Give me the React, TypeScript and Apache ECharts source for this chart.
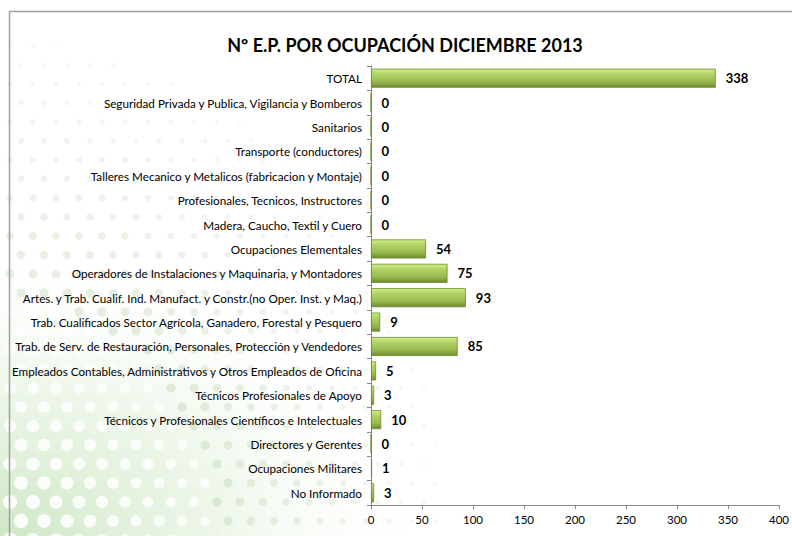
import React, { useEffect, useRef } from "react";
import * as echarts from "echarts";

const title = "Nº E.P. POR OCUPACIÓN DICIEMBRE 2013";
const categories = [
  "TOTAL",
  "Seguridad Privada y Publica, Vigilancia y Bomberos",
  "Sanitarios",
  "Transporte (conductores)",
  "Talleres Mecanico y Metalicos (fabricacion y Montaje)",
  "Profesionales, Tecnicos, Instructores",
  "Madera, Caucho, Textil y Cuero",
  "Ocupaciones Elementales",
  "Operadores de Instalaciones y Maquinaria, y Montadores",
  "Artes. y Trab. Cualif. Ind. Manufact. y Constr.(no Oper. Inst. y Maq.)",
  "Trab. Cualificados Sector Agrícola, Ganadero, Forestal y Pesquero",
  "Trab. de Serv. de Restauración, Personales, Protección y Vendedores",
  "Empleados Contables, Administrativos y Otros Empleados de Oficina",
  "Técnicos Profesionales de Apoyo",
  "Técnicos y Profesionales Científicos e Intelectuales",
  "Directores y Gerentes",
  "Ocupaciones Militares",
  "No Informado",
];
const values = [338, 0, 0, 0, 0, 0, 0, 54, 75, 93, 9, 85, 5, 3, 10, 0, 1, 3];
const xTicks = { min: 0, max: 400, interval: 50 };

function backgroundDots() {
  const els: any[] = [];
  const W = 792, H = 536;
  els.push({
    type: "rect",
    silent: true,
    z: -11,
    shape: { x: 0, y: 0, width: W, height: H },
    style: {
      fill: new echarts.graphic.RadialGradient(0, 1, 0.55, [
        { offset: 0, color: "rgba(200,228,190,0.9)" },
        { offset: 0.5, color: "rgba(220,238,212,0.5)" },
        { offset: 1, color: "rgba(255,255,255,0)" },
      ]),
    },
  });
  for (let row = 0; row < 30; row++) {
    const y = H - row * 19 + 4;
    for (let col = 0; col < 20; col++) {
      const x = 10 + col * 23 + (row % 2) * 11;
      const dx = x / 470;
      const dy = (H - y) / 520;
      const d = Math.sqrt(dx * dx + dy * dy);
      const s = 1 - d;
      if (s <= 0.05) continue;
      const near = s > 0.55;
      els.push({
        type: "circle",
        silent: true,
        z: -10,
        shape: { cx: x, cy: y, r: 1.5 + 6 * s },
        style: {
          fill: near
            ? `rgba(255,255,255,${(0.5 + 0.4 * s).toFixed(3)})`
            : `rgba(150,190,130,${(0.08 + 0.3 * s).toFixed(3)})`,
        },
      });
    }
  }
  return els;
}

export default function App() {
  const ref = useRef<HTMLDivElement>(null);
  useEffect(() => {
    const chart = echarts.init(ref.current!, undefined, { renderer: "svg" });
    chart.setOption({
      animation: false,
      backgroundColor: "#ffffff",
      textStyle: { fontFamily: "Lato, 'Open Sans', sans-serif" },
      title: {
        text: title,
        left: 400,
        textAlign: "center",
        top: 31,
        textStyle: { fontSize: 18, fontWeight: "bold", color: "#000", fontFamily: "Lato, sans-serif" },
      },
      graphic: [
        ...backgroundDots(),
        {
          type: "rect",
          silent: true,
          z: -5,
          shape: { x: 9.5, y: 11.5, width: 800, height: 540 },
          style: { fill: "none", stroke: "#a0a0a0", lineWidth: 1.5 },
        },
      ],
      grid: { left: 371, right: 8, top: 66, bottom: 31, containLabel: false },
      xAxis: {
        type: "value",
        min: xTicks.min,
        max: xTicks.max,
        interval: xTicks.interval,
        splitLine: { show: false },
        axisLine: { show: true, lineStyle: { color: "#868686" } },
        axisTick: { show: true, length: 4, lineStyle: { color: "#868686" } },
        axisLabel: { color: "#000", fontSize: 11.5, margin: 8 },
      },
      yAxis: {
        type: "category",
        inverse: true,
        data: categories,
        axisLine: { show: true, lineStyle: { color: "#868686" } },
        axisTick: { show: true, length: 4, lineStyle: { color: "#868686" } },
        axisLabel: { color: "#000", fontSize: 11.7, margin: 9 },
      },
      series: [
        {
          type: "bar",
          data: values,
          barCategoryGap: "22%",
          itemStyle: {
            color: new echarts.graphic.LinearGradient(0, 0, 0, 1, [
              { offset: 0, color: "#d4ee8c" },
              { offset: 0.25, color: "#b3d568" },
              { offset: 0.7, color: "#97b94e" },
              { offset: 1, color: "#6e8a2f" },
            ]),
            borderColor: "#6b8a2a",
            borderWidth: 0.8,
          },
          label: {
            show: true,
            position: "right",
            distance: 10,
            color: "#000",
            fontWeight: "bold",
            fontSize: 13,
          },
        },
      ],
    });
    return () => chart.dispose();
  }, []);
  return <div ref={ref} style={{ width: 792, height: 536, position: "absolute", left: 0, top: 0 }} />;
}
